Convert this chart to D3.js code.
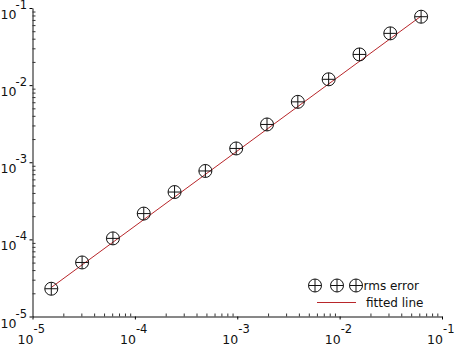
<!DOCTYPE html>
<html>
<head>
<meta charset="utf-8">
<script src="https://cdn.jsdelivr.net/npm/d3@7"></script>
<style>
  body { margin: 0; background: #fff; }
  text { font-family: "DejaVu Sans", sans-serif; fill: #111; }
</style>
</head>
<body>
<div id="chart"></div>
<script>
// canvas
var width = 455,
    height = 345;

var margin = { top: 8, right: 13, bottom: 28.5, left: 32.5 };

// data: step sizes (2^-16 .. 2^-4) and rms error
var stepSize = [1.526e-5, 3.052e-5, 6.104e-5, 1.221e-4, 2.441e-4, 4.883e-4, 9.766e-4,
                1.953e-3, 3.906e-3, 7.813e-3, 1.563e-2, 3.125e-2, 6.25e-2];
var rmsError = [2.29e-5, 5.02e-5, 1.03e-4, 2.16e-4, 4.11e-4, 7.71e-4, 1.51e-3,
                3.09e-3, 6.07e-3, 1.19e-2, 2.50e-2, 4.69e-2, 7.71e-2];

// fitted line end points
var fitX = [1.526e-5, 6.25e-2];
var fitY = [2.38e-5, 7.85e-2];

// tick decades
var majorExp = [-5, -4, -3, -2, -1];
var legendLabels = ["rms error", "fitted line"];

var svg = d3.select("#chart")
    .append("svg")
    .attr("width", width)
    .attr("height", height);

var x = d3.scaleLog()
    .domain([1e-5, 1e-1])
    .range([margin.left, width - margin.right]);

var y = d3.scaleLog()
    .domain([1e-5, 1e-1])
    .range([height - margin.bottom, margin.top]);

var majorTicks = majorExp.map(function(e) { return Math.pow(10, e); });
var minorTicks = [];
majorExp.slice(0, -1).forEach(function(e) {
    for (var k = 2; k <= 9; k++) minorTicks.push(k * Math.pow(10, e));
});

var x0 = height - margin.bottom,
    y0 = margin.left;

// x axis: major ticks outward, minor ticks inward
svg.append("g")
    .attr("transform", "translate(0," + x0 + ")")
    .call(d3.axisBottom(x).tickValues(majorTicks).tickSize(3).tickSizeOuter(0).tickFormat(""))
    .call(function(g) { g.select(".domain").attr("stroke", "#111"); });
svg.append("g")
    .attr("transform", "translate(0," + x0 + ")")
    .call(d3.axisTop(x).tickValues(minorTicks).tickSize(3).tickFormat(""))
    .call(function(g) { g.select(".domain").remove(); g.selectAll("line").attr("stroke", "#333"); });

// y axis
svg.append("g")
    .attr("transform", "translate(" + y0 + ",0)")
    .call(d3.axisLeft(y).tickValues(majorTicks).tickSize(3).tickSizeOuter(0).tickFormat(""))
    .call(function(g) { g.select(".domain").attr("stroke", "#111"); });
svg.append("g")
    .attr("transform", "translate(" + y0 + ",0)")
    .call(d3.axisRight(y).tickValues(minorTicks).tickSize(3).tickFormat(""))
    .call(function(g) { g.select(".domain").remove(); g.selectAll("line").attr("stroke", "#333"); });

// x tick labels: "10" left of tick, exponent right of tick
var xLab = svg.selectAll(".xlab")
    .data(majorExp)
    .enter().append("g")
    .attr("class", "xlab");
xLab.append("text")
    .attr("x", function(d) { return x(Math.pow(10, d)) + 1; })
    .attr("y", x0 + 27)
    .attr("text-anchor", "end")
    .attr("font-size", "12.5px")
    .text("10");
xLab.append("text")
    .attr("x", function(d) { return x(Math.pow(10, d)) + 1; })
    .attr("y", x0 + 16)
    .attr("font-size", "11.5px")
    .text(function(d) { return "-" + (-d); });

// y tick labels
var yLab = svg.selectAll(".ylab")
    .data(majorExp)
    .enter().append("g")
    .attr("class", "ylab");
yLab.append("text")
    .attr("x", 0.5)
    .attr("y", function(d) { return y(Math.pow(10, d)) + 11; })
    .attr("font-size", "12.5px")
    .text("10");
yLab.append("text")
    .attr("x", 27)
    .attr("y", function(d) { return y(Math.pow(10, d)) + 1; })
    .attr("text-anchor", "end")
    .attr("font-size", "11.5px")
    .text(function(d) { return "-" + (-d); });

// fitted line
var fit = fitX.map(function(v, i) { return [v, fitY[i]]; });
svg.append("path")
    .datum(fit)
    .attr("fill", "none")
    .attr("stroke", "#b8262a")
    .attr("stroke-width", 1)
    .attr("d", d3.line().x(function(d) { return x(d[0]); }).y(function(d) { return y(d[1]); }));

// circle-plus marker
function marker(g, r) {
    g.append("circle").attr("r", r).attr("fill", "none").attr("stroke", "#111").attr("stroke-width", 1);
    g.append("line").attr("x1", -r).attr("x2", r).attr("stroke", "#111").attr("stroke-width", 1);
    g.append("line").attr("y1", -r).attr("y2", r).attr("stroke", "#111").attr("stroke-width", 1);
}

var pts = stepSize.map(function(v, i) { return [v, rmsError[i]]; });
svg.selectAll(".pt")
    .data(pts)
    .enter().append("g")
    .attr("class", "pt")
    .attr("transform", function(d) { return "translate(" + x(d[0]) + "," + y(d[1]) + ")"; })
    .each(function() { marker(d3.select(this), 6.5); });

// legend
var legend = svg.append("g").attr("class", "legend");
[315, 337, 356].forEach(function(px) {
    marker(legend.append("g").attr("transform", "translate(" + px + ",285.5)"), 6.5);
});
legend.append("text")
    .attr("x", 363.5)
    .attr("y", 290)
    .attr("font-size", "12px")
    .text(legendLabels[0]);
legend.append("line")
    .attr("x1", 317).attr("x2", 356)
    .attr("y1", 302.5).attr("y2", 302.5)
    .attr("stroke", "#b8262a").attr("stroke-width", 1);
legend.append("text")
    .attr("x", 366)
    .attr("y", 307)
    .attr("font-size", "12px")
    .text(legendLabels[1]);
</script>
</body>
</html>
